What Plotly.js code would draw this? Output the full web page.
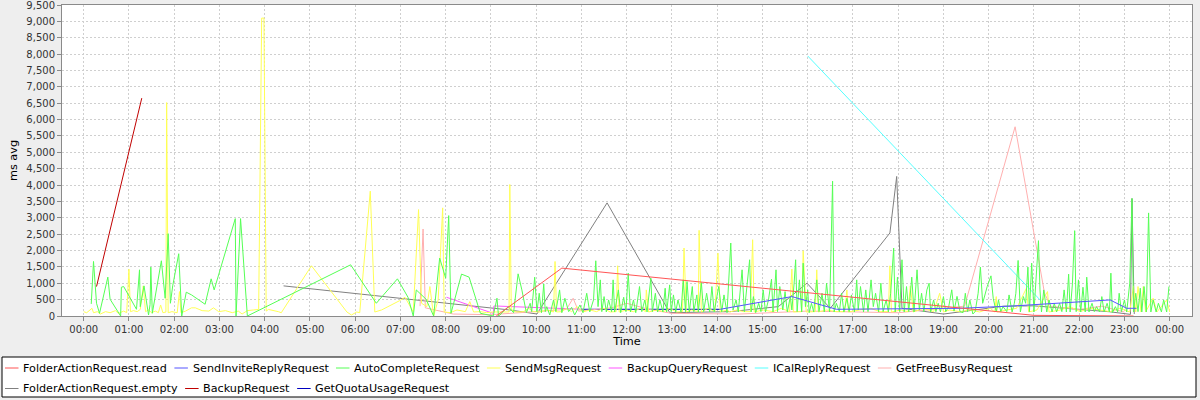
<!DOCTYPE html>
<html><head><meta charset="utf-8">
<script src="https://cdn.plot.ly/plotly-3.0.1.min.js"></script>
<style>html,body{margin:0;padding:0;background:#EEEEEE;}#chart{width:1200px;height:400px;}</style>
</head><body><div id="chart"></div>
<script>
// ---------- data (time "HH:MM", value ms avg) ----------
const seriesNames = ["FolderActionRequest.read","SendInviteReplyRequest","AutoCompleteRequest","SendMsgRequest","BackupQueryRequest","ICalReplyRequest","GetFreeBusyRequest","FolderActionRequest.empty","BackupRequest","GetQuotaUsageRequest"];

const folderReadT = ["09:07","10:34","21:00","23:12"];
const folderReadV = [0,1463,20,0];

const sendInviteT = ["14:04","15:39","16:38","19:22","20:33","22:41","23:03","23:16"];
const sendInviteV = [205,593,205,235,307,491,235,235];

const autoT = ["00:10","00:13","00:17","00:21","00:32","00:35","00:49","00:50","00:53","01:10","01:14","01:15","01:20","01:26","01:28","01:29","01:31","01:38","01:43","01:48","01:52","01:55","01:58","02:06","02:10","02:16","02:23","02:41","02:49","02:53","03:21","03:22","03:28","03:37","05:54","06:28","06:56","07:10","07:17","07:21","07:34","07:44","07:52","08:00","08:04","08:07","08:21","08:31","08:46","09:03","09:08","09:10",
"09:12","09:16","09:23","09:30","09:36","09:41","09:44","09:47","09:52","09:54","09:58","10:00","10:01","10:04","10:07","10:10","10:12","10:14","10:18","10:23","10:26","10:31","10:34","10:38","10:43","10:47","10:51","10:58","11:02","11:07","11:11","11:16","11:19","11:22","11:25","11:27","11:30","11:33","11:36","11:40","11:42","11:44","11:49","11:52","11:56","11:59","12:02","12:05","12:09","12:12","12:17","12:20","12:24","12:27","12:32","12:34","12:38","12:41","12:44","12:48","12:51","12:53","12:57","12:59","13:02","13:05","13:08","13:12","13:15","13:18","13:20","13:23","13:27","13:29","13:33","13:35","13:39","13:42","13:46","13:50","13:53","13:56","13:59","14:02","14:06","14:09","14:13",
"14:18","14:21","14:25","14:28","14:33","14:36","14:39","14:43","14:45","14:48","14:51","14:55","14:58","15:01","15:04","15:08","15:12","15:14","15:18","15:20","15:23","15:27","15:30","15:33","15:37","15:39","15:42","15:44","15:46","15:49","15:52","15:54","15:57","16:00","16:02","16:05","16:08","16:12","16:15","16:19","16:22","16:25","16:29","16:33","16:35","16:38","16:42","16:45","16:48","16:52","16:55","16:58","17:02","17:05","17:07","17:10","17:14","17:17","17:20","17:24","17:27","17:30","17:34","17:37","17:40","17:44","17:47","17:50","17:54","17:56","17:59","18:02","18:05","18:08","18:11","18:14","18:18","18:21","18:25","18:28","18:31","18:34","18:38","18:41","18:43","18:47","18:50","18:53","18:56","19:00","19:03","19:07","19:11","19:14","19:18",
"19:22","19:26","19:29","19:32","19:35","19:39","19:42","19:46","19:49","19:52","19:55","19:58","20:03","20:06","20:10","20:13","20:16","20:19","20:24","20:27","20:31","20:34","20:36","20:39","20:42","20:46","20:49","20:52","20:54","20:57","21:00","21:04","21:06","21:08","21:10","21:13","21:17","21:20","21:24","21:27","21:30","21:34","21:37","21:40","21:43","21:46","21:48","21:51","21:54","21:56","21:59","22:02","22:05","22:08","22:10","22:13","22:17","22:20","22:23","22:27","22:30","22:33","22:37","22:40","22:42","22:44","22:48","22:51","22:53","22:56","23:00","23:03","23:07","23:10","23:12","23:15","23:18","23:21","23:23","23:26","23:29","23:32","23:35","23:38","23:42","23:45","23:49","23:52","23:56","23:59"];
const autoV = [368,1666,389,83,1187,512,0,880,900,205,1411,285,920,31,350,1493,83,1052,1687,543,2515,389,920,1902,0,727,644,359,1135,797,2975,0,2975,0,1564,389,1135,573,0,797,512,0,1769,1156,3067,83,1279,1187,83,0,543,0,
31,133,286,102,1288,797,491,102,389,133,1186,593,133,695,102,981,133,286,31,491,133,797,102,542,133,266,31,337,102,695,123,491,1687,286,1104,133,593,123,491,133,1104,123,797,102,573,133,1309,123,491,102,900,133,491,123,1155,133,695,123,491,123,849,123,951,133,644,123,491,123,1104,133,1053,123,900,133,644,123,1022,133,695,123,900,123,491,900,123,644,102,
2229,184,491,123,1411,133,797,1718,123,593,102,389,133,797,123,491,1124,123,1411,133,900,184,746,123,593,184,1002,1718,133,1104,123,1615,286,797,102,389,123,1104,133,695,123,1002,123,4119,123,389,133,695,123,542,133,644,123,1104,184,900,123,797,133,1104,286,695,123,1002,133,491,123,695,2076,123,1186,133,1718,123,900,133,1186,123,1411,184,695,133,797,1002,123,491,133,389,123,593,133,286,800,150,600,
133,102,695,133,491,61,133,695,1493,389,695,900,1227,542,123,491,133,286,133,644,123,389,695,1697,123,593,389,1493,133,1615,123,1820,2301,797,123,797,123,491,123,389,123,389,133,797,123,1278,123,981,2607,133,1104,123,879,123,1186,123,389,133,286,123,593,123,389,123,1309,102,286,123,695,133,491,123,1002,3589,123,695,133,849,123,900,123,3149,123,491,123,389,123,491,123,900];

const sendMsgT = ["00:00","00:04","00:11","00:13","00:18","00:22","00:29","00:35","00:42","00:46","00:53","00:57","01:00","01:02","01:06","01:11","01:15","01:19","01:22","01:26","01:30","01:35","01:39","01:42","01:45","01:49","01:50","01:52","01:57","02:04","02:07","02:09","02:15","02:23","02:28","02:37","02:46","02:52","02:59","03:08","03:17","03:25","03:30","03:37","03:45","03:52","03:56","03:59","04:02","04:05","04:18","04:22","05:02","05:49","05:55","06:02","06:06","06:20","06:26","06:35","06:59","07:06","07:17","07:24","07:28","07:35","07:39","07:44","07:50","07:56","07:58","08:06","08:15","08:26","08:32","08:37","08:46","08:54","09:03","09:12","09:21","09:24","09:25","09:27","09:34","09:43","09:50","09:56","10:05","10:14","10:23","10:25","10:27","10:34","10:40","10:47","10:54","11:02","11:11","11:20","11:29","11:38","11:46","11:48","11:50","12:00","12:09","12:18","12:25","12:26","12:29","12:40","12:49","12:57","13:06","13:14","13:16","13:19","13:26","13:35","13:36","13:39","13:48","13:57","14:01","14:04","14:13","14:17","14:26","14:35","14:44","14:47","14:49","15:01","15:14","15:25","15:36","15:39","15:41","15:52","15:54","15:58","16:10","16:12","16:14","16:25","16:38","16:49","16:52","16:54","17:09","17:23","17:36","17:47","17:49","17:51","18:04","18:13","18:16","18:20","18:33","18:47","18:55","19:00","19:08","19:22","19:35","19:48","20:02","20:08","20:10","20:11","20:24","20:37","20:50","20:53","21:04","21:18","21:20","21:35","21:48","22:01","22:14","22:27","22:41","22:54","23:07","23:12","23:15","23:18","23:22","23:25","23:28","23:38","23:43","23:56","24:00"];
const sendMsgV = [132,100,235,100,133,60,133,100,164,80,150,102,1432,133,164,133,200,920,133,184,102,150,102,337,102,120,6520,100,133,100,746,100,150,250,250,164,150,250,133,164,102,150,61,164,184,200,9100,9100,150,200,133,100,1534,123,31,123,102,3813,123,184,470,573,123,3251,389,286,900,0,491,3303,123,102,184,133,440,123,133,102,123,133,123,123,4017,184,123,133,235,133,123,184,123,1666,123,133,235,133,286,123,184,133,235,123,133,1534,123,184,133,235,133,797,123,184,133,235,123,133,2076,123,184,133,2617,123,235,133,1922,123,184,123,184,133,133,2331,123,184,133,235,133,1432,123,133,1994,123,133,1411,123,184,133,133,797,123,184,235,133,133,1534,123,184,133,920,123,235,133,695,123,184,133,184,123,235,123,593,123,184,235,849,123,184,746,123,184,286,133,235,184,133,235,123,920,123,900,123,900,123,542,123,491,123];

const backupQueryT = ["08:01","09:03","09:04","11:02"];
const backupQueryV = [573,80,307,205];

const icalT = ["16:00","21:09"];
const icalV = [7944,470];

const freeBusyT = ["07:26","07:30","07:33","08:10","09:00","10:40","10:49","10:56","11:40","12:00","12:30","13:00","14:30","16:00","18:00","19:28","20:35","21:14","21:22","22:00","22:30","23:00"];
const freeBusyV = [300,2658,250,60,40,200,542,150,250,389,200,80,60,150,100,300,5780,700,300,200,300,120];

const folderEmptyT = ["04:25","09:25","10:01","11:34","12:57","14:17","15:21","15:59","16:30","17:49","17:58","18:05","19:00","20:20","21:00","22:40","23:08","23:10","23:13"];
const folderEmptyV = [920,184,61,3456,102,133,286,1002,235,2536,4263,235,60,300,310,130,50,3588,60];

const backupT = ["00:17","01:17"];
const backupV = [900,6655];

const quotaT = ["11:00","12:30","14:04"];
const quotaV = [205,195,205];

// ---------- styles ----------
const seriesColors = ["#FF5555","#5555FF","#55FF55","#FFFF55","#FF55FF","#55FFFF","#FFAFAF","#808080","#C00000","#0000C0"];

function toDate(hm){
  const p = hm.split(':').map(Number);
  const ms = Date.UTC(2013,2,14,0,0) + (p[0]*60 + p[1])*60000;
  return new Date(ms).toISOString().slice(0,19).replace('T',' ');
}

const seriesData = [
  [folderReadT, folderReadV],
  [sendInviteT, sendInviteV],
  [autoT, autoV],
  [sendMsgT, sendMsgV],
  [backupQueryT, backupQueryV],
  [icalT, icalV],
  [freeBusyT, freeBusyV],
  [folderEmptyT, folderEmptyV],
  [backupT, backupV],
  [quotaT, quotaV]
];

// JFreeChart draws the first series on top: add traces in reverse order
const traces = [];
for (let i = seriesData.length - 1; i >= 0; i--) {
  traces.push({
    type: 'scatter', mode: 'lines', name: seriesNames[i], showlegend: false,
    x: seriesData[i][0].map(toDate), y: seriesData[i][1],
    line: {color: seriesColors[i], width: 1}
  });
}

// ---------- geometry ----------
const W = 1200, H = 400, M = {l: 62, r: 8, t: 5, b: 84};
const PW = W - M.l - M.r, PH = H - M.t - M.b;
const toPX = p => (p - M.l) / PW;
const toPY = p => (H - M.b - p) / PH;

const fontFam = 'DejaVu Sans, Lucida Sans, sans-serif';
const legendSize = 11.2;

// legend box (full width) + flowed legend entries
const shapes = [{
  type: 'rect', xref: 'paper', yref: 'paper', layer: 'below',
  x0: toPX(2), x1: toPX(1196), y0: toPY(357), y1: toPY(397),
  line: {color: '#000000', width: 1}, fillcolor: '#FFFFFF'
}];
const annotations = [];
const ctx = document.createElement('canvas').getContext('2d');
ctx.font = legendSize + "px 'DejaVu Sans'";
const rowCenters = [368, 388.5];
const sampleLen = 13.5, textOffset = 18.3, entryGap = 7.3, startX = 5, maxX = 1192;
let cx = startX, row = 0;
seriesNames.forEach((name, i) => {
  const tw = ctx.measureText(name).width;
  if (cx + textOffset + tw > maxX) { row++; cx = startX; }
  const yc = toPY(rowCenters[row]);
  shapes.push({type: 'line', xref: 'paper', yref: 'paper', layer: 'above',
    x0: toPX(cx), x1: toPX(cx + sampleLen), y0: yc, y1: yc,
    line: {color: seriesColors[i], width: 1}});
  annotations.push({xref: 'paper', yref: 'paper', x: toPX(cx + textOffset), y: yc,
    xanchor: 'left', yanchor: 'middle', showarrow: false, text: name,
    borderpad: 0, borderwidth: 0,
    font: {family: fontFam, size: legendSize, color: '#000000'}});
  cx += textOffset + tw + entryGap;
});

const axisCommon = {
  showgrid: true, gridcolor: '#CFCFCF', griddash: '2px,2px', gridwidth: 1,
  showline: true, linecolor: '#8A8A8A', linewidth: 1, mirror: true,
  ticks: 'outside', ticklen: 4, tickcolor: '#8A8A8A', ticklabeloverflow: 'allow',
  tickfont: {size: 10, color: '#333333'}, zeroline: false, automargin: false
};

const layout = {
  width: W, height: H,
  paper_bgcolor: '#EEEEEE', plot_bgcolor: '#FFFFFF',
  margin: M,
  font: {family: fontFam, size: 11.3, color: '#000000'},
  showlegend: false,
  xaxis: Object.assign({}, axisCommon, {
    type: 'date', range: ['2013-03-13 23:31:14', '2013-03-15 00:29:34'],
    tickformat: '%H:%M', dtick: 3600000, tick0: '2013-03-14 00:00:00',
    title: {text: 'Time', font: {size: 11.3}, standoff: 3}
  }),
  yaxis: Object.assign({}, axisCommon, {
    range: [0, 9500], dtick: 500, tick0: 0, tickformat: ',d',
    title: {text: 'ms avg', font: {size: 11.3}, standoff: 6}
  }),
  shapes: shapes,
  annotations: annotations
};

Plotly.newPlot('chart', traces, layout, {displayModeBar: false, staticPlot: true});
</script>
</body></html>
